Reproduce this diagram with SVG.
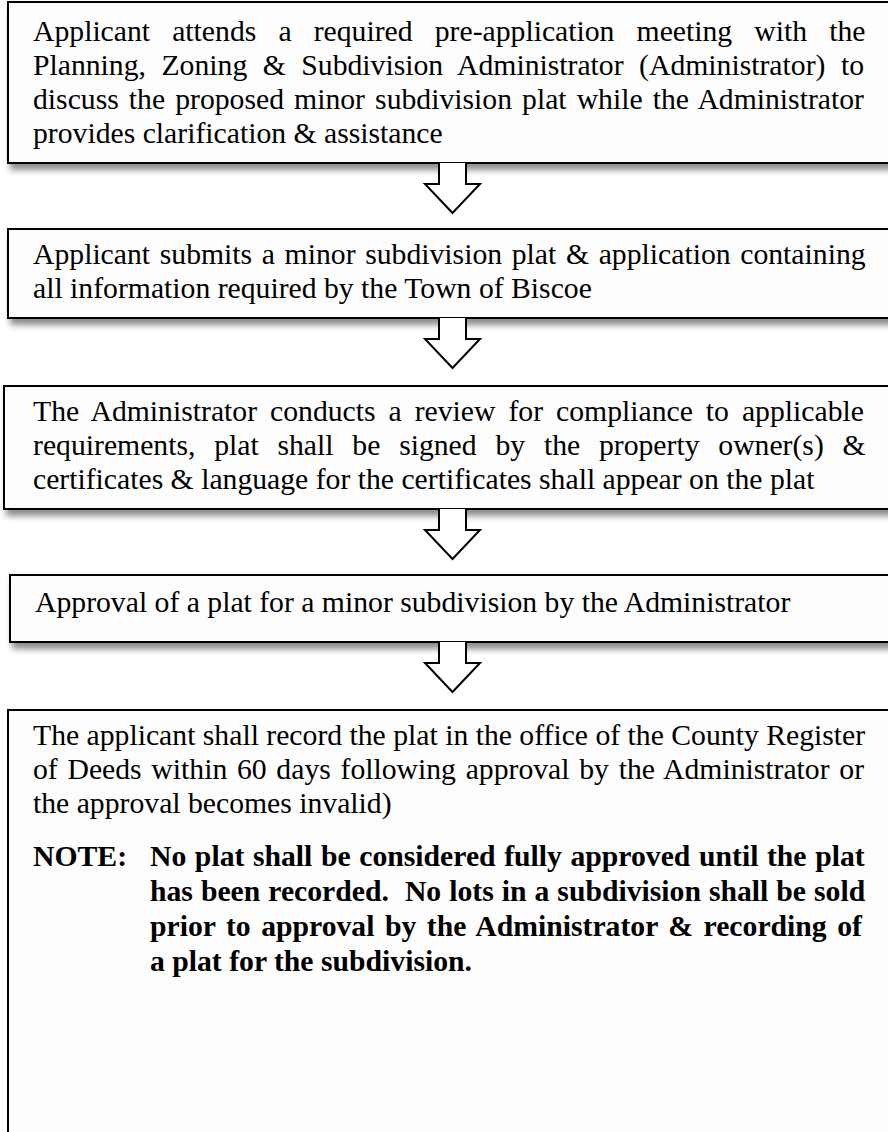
<svg xmlns="http://www.w3.org/2000/svg" width="888" height="1132" viewBox="0 0 888 1132">
<style>
.box{fill:#fdfdfd;stroke:#000;stroke-width:2}
.t{font-family:"Liberation Serif","Times New Roman",serif;font-size:29.7px;fill:#000}
.b{font-weight:bold}
.arr{fill:#fff;stroke:#000;stroke-width:2;stroke-linejoin:miter}
</style>
<defs>
<filter id="sh" x="-5%" y="-5%" width="115%" height="130%">
<feDropShadow dx="3" dy="6" stdDeviation="3" flood-color="#000" flood-opacity="0.45"/>
</filter>
</defs>
<rect width="888" height="1132" fill="#fff"/>
<g id="node1">
<rect class="box" x="8" y="2" width="900" height="161" filter="url(#sh)"/>
<text class="t" x="33" y="41" word-spacing="14.7">Applicant attends a required pre-application meeting with the</text>
<text class="t" x="33" y="75" word-spacing="8.07">Planning, Zoning &amp; Subdivision Administrator (Administrator) to</text>
<text class="t" x="33" y="109" word-spacing="2.65">discuss the proposed minor subdivision plat while the Administrator</text>
<text class="t" x="33" y="143">provides clarification &amp; assistance</text>
</g>
<g id="node2">
<rect class="box" x="8" y="229" width="900" height="89" filter="url(#sh)"/>
<text class="t" x="33" y="264" word-spacing="2.24">Applicant submits a minor subdivision plat &amp; application containing</text>
<text class="t" x="33" y="298">all information required by the Town of Biscoe</text>
</g>
<g id="node3">
<rect class="box" x="4" y="386" width="904" height="123" filter="url(#sh)"/>
<text class="t" x="33" y="421" word-spacing="5.56">The Administrator conducts a review for compliance to applicable</text>
<text class="t" x="33" y="455" word-spacing="11.36">requirements, plat shall be signed by the property owner(s) &amp;</text>
<text class="t" x="33" y="489">certificates &amp; language for the certificates shall appear on the plat</text>
</g>
<g id="node4">
<rect class="box" x="10" y="575" width="898" height="67" filter="url(#sh)"/>
<text class="t" x="35" y="612">Approval of a plat for a minor subdivision by the Administrator</text>
</g>
<g id="node5">
<path class="box" d="M8,1140 V710 H908" />
<rect x="9" y="711" width="900" height="430" fill="#fdfdfd"/>
<path d="M8,1140 V710 H908" fill="none" stroke="#000" stroke-width="2"/>
<text class="t" x="33" y="745">The applicant shall record the plat in the office of the County Register</text>
<text class="t" x="33" y="779" word-spacing="2.3">of Deeds within 60 days following approval by the Administrator or</text>
<text class="t" x="33" y="813">the approval becomes invalid)</text>
<text class="t b" x="33" y="866">NOTE:</text>
<text class="t b" x="150" y="866" word-spacing="1.17">No plat shall be considered fully approved until the plat</text>
<text class="t b" x="150" y="901" word-spacing="0.58">has been recorded.&#160; No lots in a subdivision shall be sold</text>
<text class="t b" x="150" y="936" word-spacing="3.09">prior to approval by the Administrator &amp; recording of</text>
<text class="t b" x="150" y="971">a plat for the subdivision.</text>
</g>
<g id="connectors">
<path class="arr" d="M439,163 V184 H425 L452.5,213 L480,184 H466 V163"/>
<path class="arr" d="M439,318 V339 H425 L452.5,368 L480,339 H466 V318"/>
<path class="arr" d="M439,509 V530 H425 L452.5,559 L480,530 H466 V509"/>
<path class="arr" d="M439,642 V663 H425 L452.5,692 L480,663 H466 V642"/>
</g>
</svg>
